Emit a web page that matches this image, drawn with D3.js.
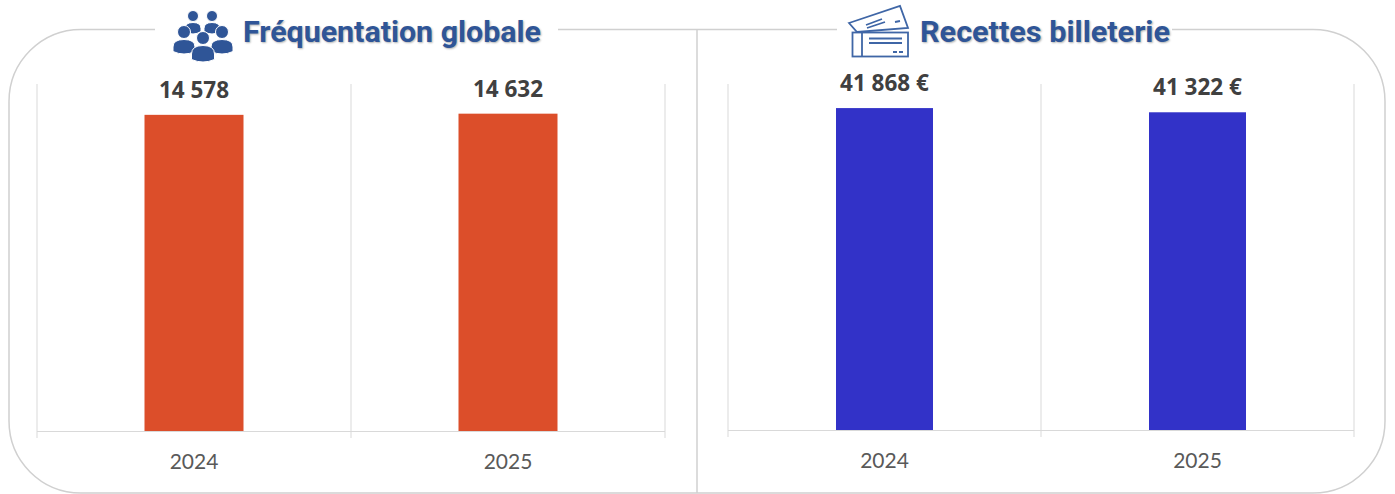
<!DOCTYPE html>
<html lang="fr">
<head>
  <meta charset="UTF-8">
  <title>Fréquentation et recettes</title>
  <script src="https://d3js.org/d3.v7.min.js"></script>
  <style>
    html, body { margin: 0; padding: 0; background: #fff; }
    svg { display: block; }
    .title { font-family: "Roboto", sans-serif; font-weight: 700; font-size: 30px; fill: #2f5597;
             text-shadow: 1px 1px 2px rgba(0,0,0,.3); }
    .value { font-family: "Open Sans", sans-serif; font-weight: 700; font-size: 22.5px; fill: #404040; }
    .tick-label { font-family: "Lato", sans-serif; font-size: 21px; fill: #595959; }
    .grid { stroke: #d9d9d9; stroke-width: 1; }
    .frame { fill: none; stroke: #d0d0d0; stroke-width: 1.5; }
  </style>
</head>
<body>
<svg id="chart" width="1395" height="494"></svg>

<script>
  // Data
  const years = ["2024", "2025"];
  const visitors = [14578, 14632];
  const revenue = [41868, 41322];
  const visitorLabels = ["14 578", "14 632"];
  const revenueLabels = ["41 868 €", "41 322 €"];

  const svg = d3.select("#chart");

  // Outer rounded frame and the divider between the two panels
  svg.append("rect").attr("class", "frame")
    .attr("x", 9).attr("y", 29.5).attr("width", 1376).attr("height", 463.5)
    .attr("rx", 72).attr("ry", 72);
  svg.append("line").attr("class", "frame")
    .attr("x1", 697).attr("x2", 697).attr("y1", 29).attr("y2", 493);

  // White patches break the frame behind the titles
  svg.append("rect").attr("x", 155).attr("y", 20).attr("width", 403).attr("height", 20).attr("fill", "#fff");
  svg.append("rect").attr("x", 837).attr("y", 20).attr("width", 335).attr("height", 20).attr("fill", "#fff");

  function drawPanel(opts) {
    const x = d3.scaleBand().domain(years).range([opts.x0, opts.x1]);
    const y = d3.scaleLinear().domain([0, opts.max]).range([opts.base, 84]);
    const barW = opts.barW;
    const g = svg.append("g");

    // Category separators, running from the plot top to below the axis
    const edges = years.map(d => x(d)).concat([opts.x1]);
    g.selectAll("line.sep").data(edges).enter().append("line")
      .attr("class", "grid sep")
      .attr("x1", d => d).attr("x2", d => d)
      .attr("y1", 84).attr("y2", opts.base + 7);

    g.append("line").attr("class", "grid")
      .attr("x1", opts.x0).attr("x2", opts.x1)
      .attr("y1", opts.base + 0.5).attr("y2", opts.base + 0.5);

    g.selectAll("rect.bar").data(opts.values).enter().append("rect")
      .attr("class", "bar")
      .attr("fill", opts.color)
      .attr("x", (d, i) => x(years[i]) + x.bandwidth() / 2 - barW / 2)
      .attr("width", barW)
      .attr("y", d => y(d))
      .attr("height", d => opts.base - y(d));

    g.selectAll("text.value").data(opts.values).enter().append("text")
      .attr("class", "value")
      .attr("text-anchor", "middle")
      .attr("x", (d, i) => x(years[i]) + x.bandwidth() / 2)
      .attr("y", d => y(d) - 17)
      .text((d, i) => opts.labels[i]);

    g.selectAll("text.tick-label").data(years).enter().append("text")
      .attr("class", "tick-label")
      .attr("text-anchor", "middle")
      .attr("x", d => x(d) + x.bandwidth() / 2)
      .attr("y", opts.base + 38)
      .text(d => d);
  }

  drawPanel({ x0: 37, x1: 665, base: 431, max: 16000, barW: 99, color: "#dc4e2a",
              values: visitors, labels: visitorLabels });
  drawPanel({ x0: 728, x1: 1354, base: 430, max: 45000, barW: 97, color: "#3232c8",
              values: revenue, labels: revenueLabels });

  // Titles, squeezed to imitate the condensed face of the original
  svg.append("text").attr("class", "title").attr("x", 243).attr("y", 42)
    .attr("textLength", 298).attr("lengthAdjust", "spacingAndGlyphs").text("Fréquentation globale");
  svg.append("text").attr("class", "title").attr("x", 920).attr("y", 42)
    .attr("textLength", 250).attr("lengthAdjust", "spacingAndGlyphs").text("Recettes billeterie");

  // People icon
  const people = svg.append("g").attr("fill", "#2f5597").attr("stroke", "#fff").attr("stroke-width", 1);
  function person(cx, cy, r, w, h) {
    people.append("circle").attr("cx", cx).attr("cy", cy).attr("r", r);
    const top = cy + r + 1;
    people.append("path").attr("d",
      `M${cx - w},${top + h - 3} V${top + h * 0.5} Q${cx - w},${top} ${cx},${top} ` +
      `Q${cx + w},${top} ${cx + w},${top + h * 0.5} V${top + h - 3} Q${cx},${top + h + 2} ${cx - w},${top + h - 3} Z`);
  }
  person(193, 16, 5.5, 8, 12);
  person(212, 16, 5.5, 8, 12);
  person(184, 32, 6.5, 11, 15);
  person(222, 32, 6.5, 11, 15);
  person(203, 38, 6.5, 11.5, 17);

  // Ticket icon
  const ticket = svg.append("g").attr("fill", "#fff").attr("stroke", "#3f66a6").attr("stroke-width", 1.8);
  ticket.append("path").attr("d", "M849,23 L900,6 L908,28 L857,32 Z");
  ticket.append("rect").attr("x", 852.5).attr("y", 32.5).attr("width", 55.5).attr("height", 24);
  ticket.append("path").attr("d",
    "M862,33 V56 M869,38.5 H902 M869,43 H902 M893,52 H897 M899,52 H903 M866,25 L882,19 M867,28 L885,22 M895,22 L900,21");
</script>
</body>
</html>
